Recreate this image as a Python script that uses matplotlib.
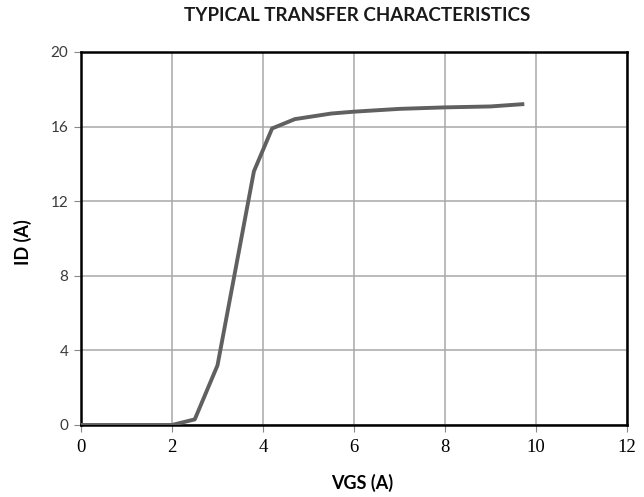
import numpy as np
import matplotlib
matplotlib.use('Agg')
import matplotlib.pyplot as plt

# transfer curve
vgs = [0, 2, 2.5, 3, 3.8, 4.2, 4.7, 5.5, 6, 7, 8, 9, 9.7]
id_a = [0, 0, 0.3, 3.2, 13.6, 15.9, 16.4, 16.7, 16.8, 16.95, 17.03, 17.08, 17.2]

xticks = [0, 2, 4, 6, 8, 10, 12]
yticks = [0, 4, 8, 12, 16, 20]

fig = plt.figure(figsize=(6.44, 4.97), dpi=100)
ax = fig.add_axes([0.1258, 0.1449, 0.8478, 0.7505])

ax.plot(vgs, id_a, color='#606060', lw=2.8, solid_joinstyle='round', zorder=3)

ax.set_xlim(0, 12)
ax.set_ylim(0, 20)
ax.set_xticks(xticks)
ax.set_yticks(yticks)
ax.grid(True, color='#a8a8a8', lw=1.1)
ax.set_axisbelow(True)

for s in ax.spines.values():
    s.set_color('black')
    s.set_linewidth(1.8)

ax.tick_params(axis='x', length=5, color='#888888', labelsize=13.5, pad=5)
ax.tick_params(axis='y', length=5, color='#888888', labelsize=11, pad=4, labelcolor='#3a3a3a')
for lab in ax.get_xticklabels():
    lab.set_family('Liberation Serif')
for lab in ax.get_yticklabels():
    lab.set_family('Lato')

ax.set_xlabel('VGS (A)', fontsize=13, fontweight='bold', family='Lato', va='center')
ax.xaxis.set_label_coords(0.515, -0.155)
ax.set_ylabel('ID (A)', fontsize=13, fontweight='bold', family='Lato', va='center')
ax.yaxis.set_label_coords(-0.106, 0.49)
fig.text(0.555, 0.968, 'TYPICAL TRANSFER CHARACTERISTICS', fontsize=13.5,
         fontweight='bold', family='Lato', color='#1a1a1a', ha='center', va='center')

fig.savefig('out.png', dpi=100)
